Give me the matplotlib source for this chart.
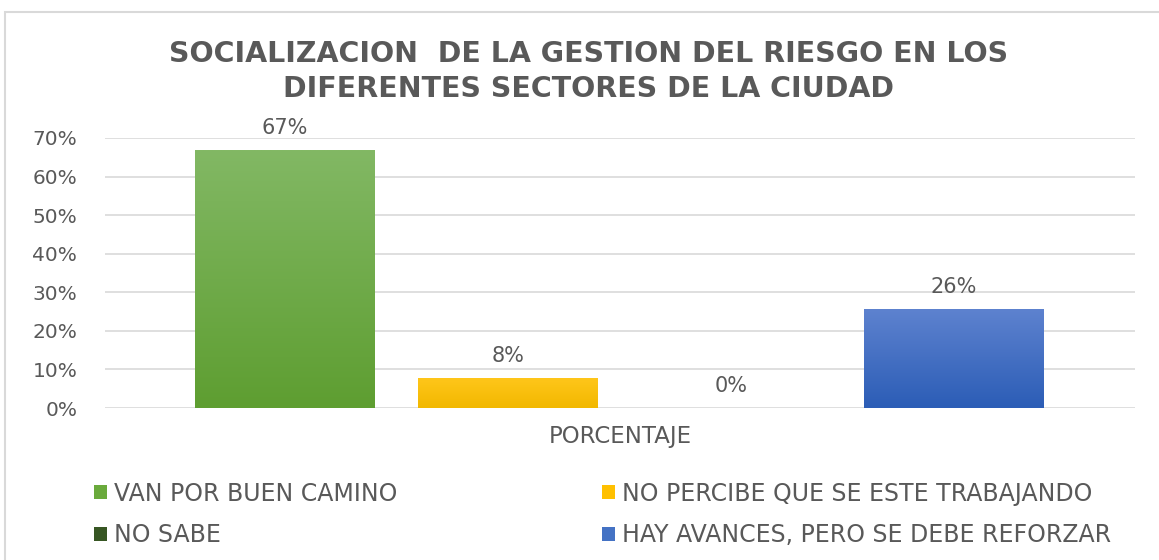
import numpy as np
import matplotlib
matplotlib.use("Agg")
import matplotlib.pyplot as plt
from matplotlib.patches import Rectangle, Patch
from matplotlib.ticker import PercentFormatter

# data
categories = ["VAN POR BUEN CAMINO", "NO PERCIBE QUE SE ESTE TRABAJANDO",
              "NO SABE", "HAY AVANCES, PERO SE DEBE REFORZAR"]
values = [0.667, 0.077, 0.0, 0.256]
value_labels = ["67%", "8%", "0%", "26%"]
yticks = [0, 0.1, 0.2, 0.3, 0.4, 0.5, 0.6, 0.7]

# colours in category order
top_colors = ["#82b864", "#ffc61a", "#4a6b30", "#5d82cf"]
bot_colors = ["#5e9e31", "#f2b800", "#375623", "#2c5db6"]
legend_colors = ["#6aaa3c", "#ffc000", "#375623", "#4472c4"]

gray = "#595959"

fig = plt.figure(figsize=(11.59, 5.6), dpi=100)
ax = fig.add_axes([0.0906, 0.2714, 0.8884, 0.4822])

x = np.arange(len(values))
bars = ax.bar(x, values, width=0.807, color="none", zorder=3)

# gradient fill for each bar
for i, b in enumerate(bars):
    h = b.get_height()
    if h <= 0:
        continue
    c1 = np.array(matplotlib.colors.to_rgb(top_colors[i]))
    c2 = np.array(matplotlib.colors.to_rgb(bot_colors[i]))
    t = np.linspace(0, 1, 100)[:, None]
    grad = (c1 * (1 - t) + c2 * t)[:, None, :]
    ax.imshow(grad, extent=[b.get_x(), b.get_x() + b.get_width(), 0, h],
              aspect="auto", origin="upper", zorder=3)

for i, b in enumerate(bars):
    ax.annotate(value_labels[i], (b.get_x() + b.get_width() / 2, b.get_height()),
                xytext=(0, 9), textcoords="offset points", ha="center", va="bottom",
                fontsize=15, color=gray)

ax.set_xlim(-0.807, 3.812)
ax.set_ylim(0, 0.7)
ax.set_yticks(yticks)
ax.yaxis.set_major_formatter(PercentFormatter(1.0, decimals=0))
ax.tick_params(axis="y", length=0, labelsize=14.5, labelcolor=gray, pad=20)
ax.set_xticks([])
ax.grid(axis="y", color="#d9d9d9", linewidth=1.2, zorder=0)
for s in ax.spines.values():
    s.set_visible(False)
ax.set_xlabel("PORCENTAJE", fontsize=16.5, color=gray, labelpad=12)

fig.text(0.508, 0.873, "SOCIALIZACION  DE LA GESTION DEL RIESGO EN LOS\nDIFERENTES SECTORES DE LA CIUDAD",
         ha="center", va="center", fontsize=20.5, color=gray,
         fontweight="bold", linespacing=1.32)

order = [0, 2, 1, 3]
handles = [Patch(facecolor=legend_colors[j]) for j in order]
labels = [categories[j] for j in order]
fig.legend(handles, labels, ncol=2, loc="upper left", bbox_to_anchor=(0.063, 0.178),
           frameon=False, fontsize=17,
           handlelength=0.55, handleheight=0.55, handletextpad=0.3,
           columnspacing=8.65, labelspacing=0.75, labelcolor=gray)

# outer frame
fig.patches.append(Rectangle((5 / 1159, -0.01), 1.02, 1 - 12 / 560 + 0.01,
                             transform=fig.transFigure, fill=False,
                             edgecolor="#d9d9d9", linewidth=1.5))

fig.savefig("out.png", dpi=100)
